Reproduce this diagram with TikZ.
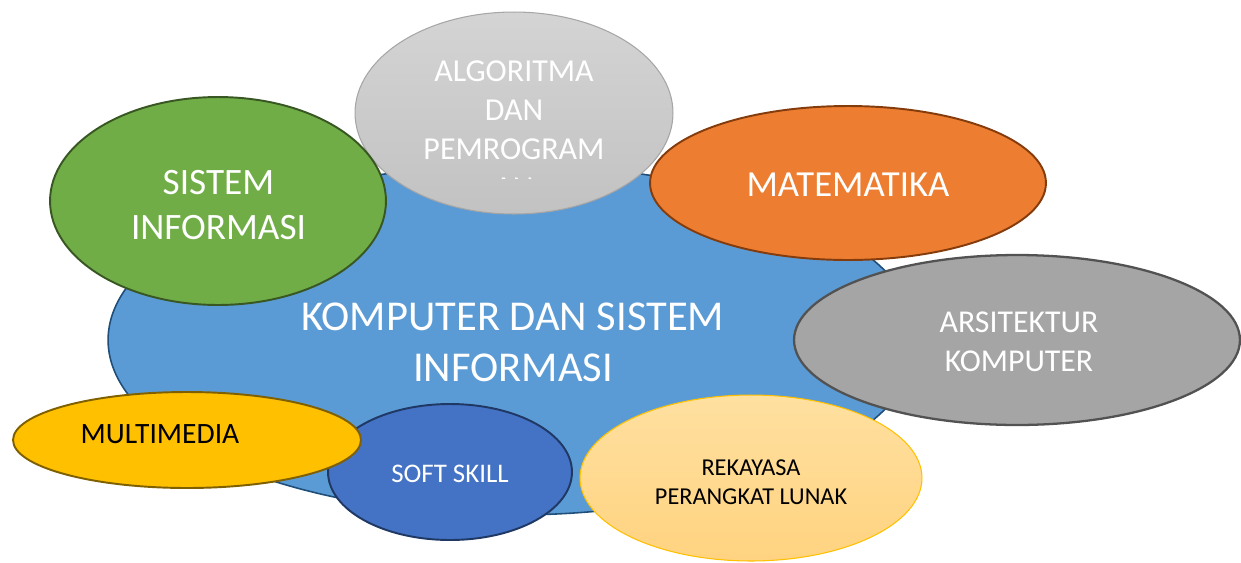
\documentclass[tikz,border=0pt]{standalone}
\usepackage{fontspec}
\setmainfont{Carlito}
\usetikzlibrary{shapes.geometric}
\begin{document}
\begin{tikzpicture}[x=0.02cm,y=-0.02cm,
  blob/.style={ellipse, inner sep=0pt},
  lighttext/.style={text=white, align=center, inner sep=0pt},
  darktext/.style={text=black, align=center, inner sep=0pt}]
\useasboundingbox (0,0) rectangle (1241,562);

% central topic
\node[blob, fill={rgb,255:red,91;green,155;blue,213}, draw={rgb,255:red,31;green,78;blue,121},
      line width=0.9pt, minimum width=16.2cm, minimum height=7.0cm] (core) at (513,340) {};
\node[lighttext, font=\fontsize{24.2}{29.2}\selectfont] (coretext) at (513,342)
      {KOMPUTER DAN SISTEM\\INFORMASI};

% surrounding topics
\node[blob, top color={rgb,255:red,212;green,212;blue,212}, bottom color={rgb,255:red,194;green,194;blue,194},
      draw={rgb,255:red,166;green,166;blue,166}, line width=0.6pt,
      minimum width=6.36cm, minimum height=4.04cm] (algo) at (514,113) {};
\begin{scope}
  \clip (355,0) rectangle (673,178);
  \node[lighttext, font=\fontsize{18.2}{22.2}\selectfont] (algotext) at (514,129.5)
        {ALGORITMA\\DAN\\PEMROGRAM\\AN};
\end{scope}

\node[blob, fill={rgb,255:red,112;green,173;blue,71}, draw={rgb,255:red,56;green,87;blue,35},
      line width=1.1pt, minimum width=6.72cm, minimum height=4.16cm] (si) at (218,201) {};
\node[lighttext, font=\fontsize{21.2}{25.6}\selectfont] (sitext) at (218.5,205)
      {SISTEM\\INFORMASI};

\node[blob, fill={rgb,255:red,237;green,125;blue,49}, draw={rgb,255:red,132;green,60;blue,12},
      line width=1.1pt, minimum width=7.92cm, minimum height=3.08cm] (mat) at (848,183) {};
\node[lighttext, font=\fontsize{20.9}{24}\selectfont] (mattext) at (848,185) {MATEMATIKA};

\node[blob, fill={rgb,255:red,165;green,165;blue,165}, draw={rgb,255:red,82;green,82;blue,82},
      line width=1.3pt, minimum width=8.92cm, minimum height=3.4cm] (arsi) at (1017,340) {};
\node[lighttext, font=\fontsize{18.1}{22}\selectfont] (arsitext) at (1019,342)
      {ARSITEKTUR\\KOMPUTER};

\node[blob, top color={rgb,255:red,255;green,224;blue,160}, bottom color={rgb,255:red,255;green,211;blue,128},
      draw={rgb,255:red,255;green,192;blue,0}, line width=0.6pt,
      minimum width=6.84cm, minimum height=3.32cm] (rpl) at (751,478) {};
\node[darktext, font=\fontsize{13.8}{16.3}\selectfont] (rpltext) at (751,482)
      {REKAYASA\\PERANGKAT LUNAK};

\node[blob, fill={rgb,255:red,68;green,114;blue,196}, draw={rgb,255:red,31;green,56;blue,100},
      line width=1.1pt, minimum width=4.88cm, minimum height=2.72cm] (soft) at (450,472) {};
\node[lighttext, font=\fontsize{15.3}{18}\selectfont] (softtext) at (450,474) {SOFT SKILL};

\node[blob, fill={rgb,255:red,255;green,192;blue,0}, draw={rgb,255:red,127;green,96;blue,0},
      line width=1.1pt, minimum width=6.96cm, minimum height=1.92cm] (mm) at (187,440) {};
\node[darktext, font=\fontsize{16.8}{20}\selectfont] (mmtext) at (160,434) {MULTIMEDIA};

\end{tikzpicture}
\end{document}
